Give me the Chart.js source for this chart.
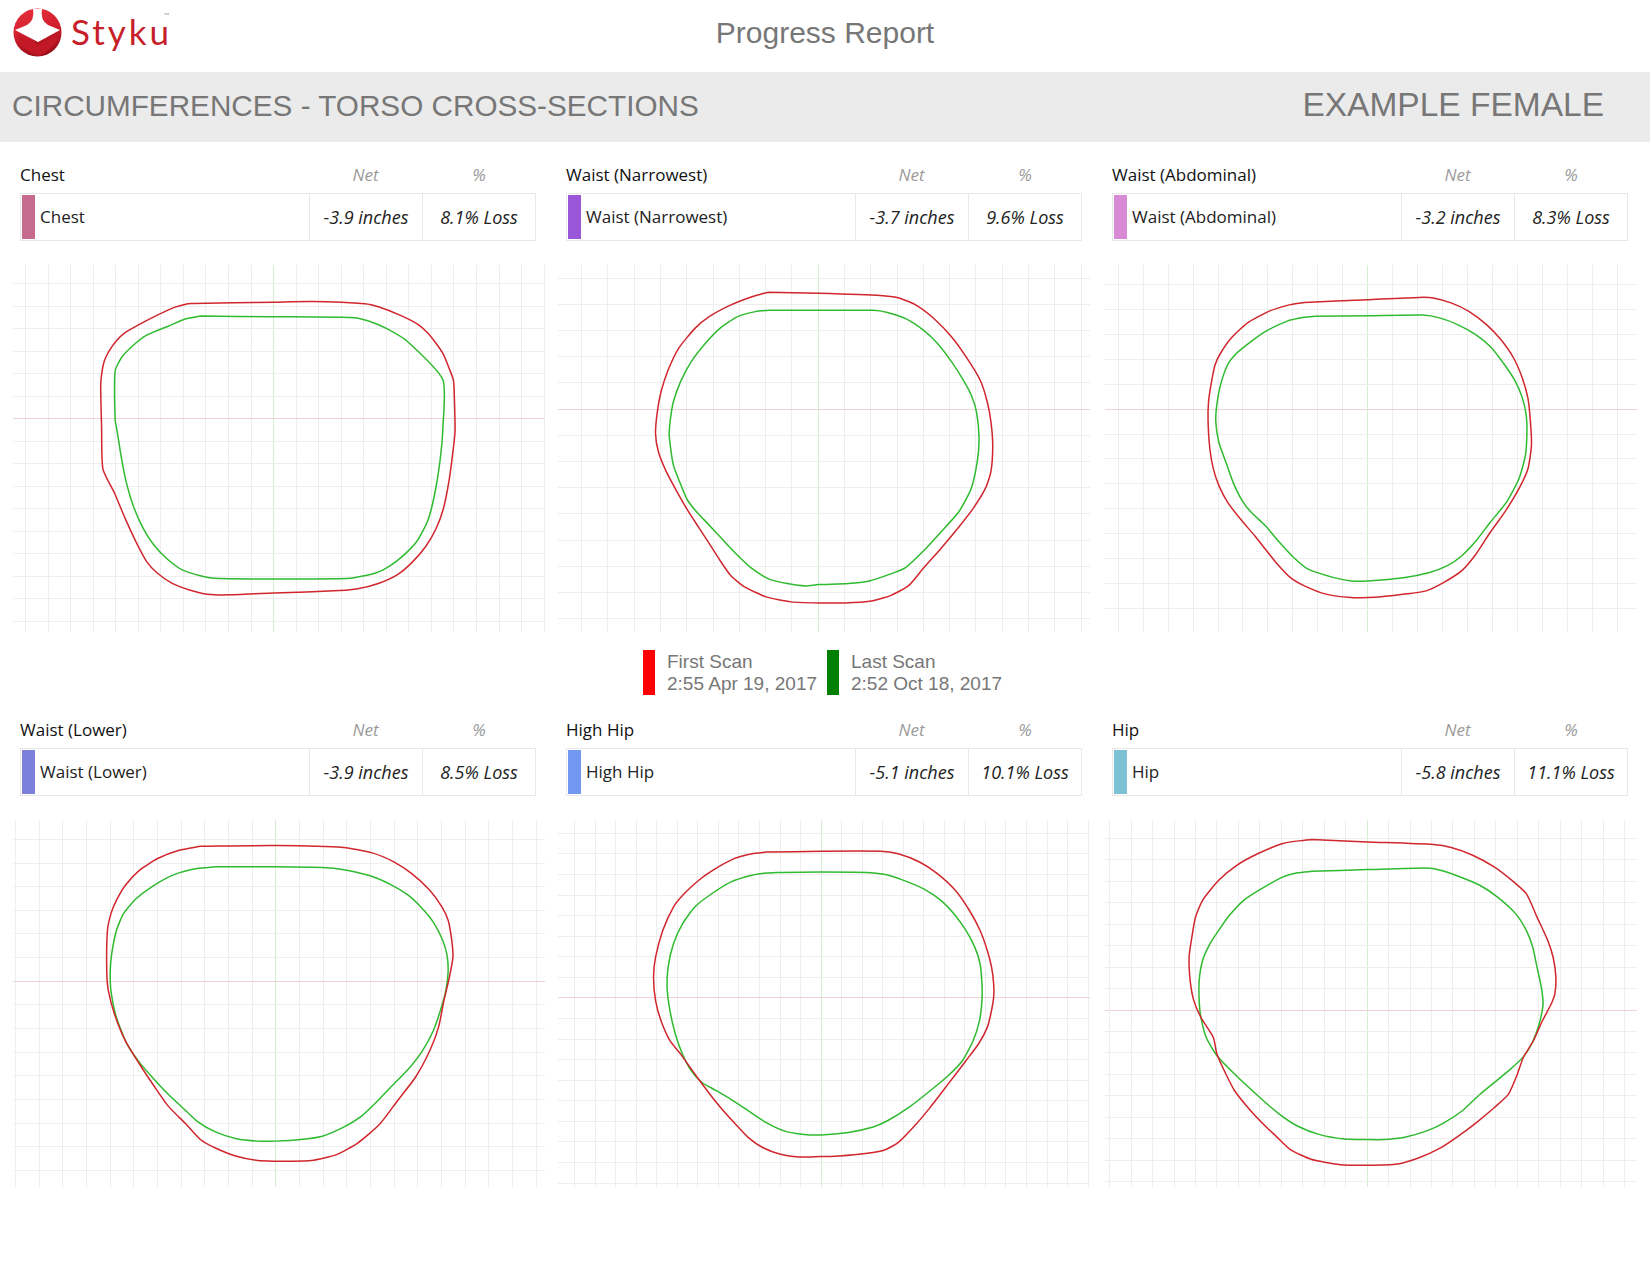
<!DOCTYPE html>
<html>
<head>
<meta charset="utf-8">
<script src="https://cdn.jsdelivr.net/npm/chart.js@4.4.1/dist/chart.umd.min.js"></script>
<style>
  html, body { margin: 0; padding: 0; background: #fff; }
  body { width: 1650px; height: 1275px; position: relative; overflow: hidden; font-family: "Liberation Sans", Arial, sans-serif; }
  .abs { position: absolute; }
  .hdr { position: absolute; font-family: "Open Sans", sans-serif; font-size: 17px; line-height: 20px; }
  .hname { color: #111; }
  .hcol { color: #9a9a9a; font-style: italic; text-align: center; }
  .row { position: absolute; height: 46px; border: 1px solid #e8e8e8; box-sizing: content-box; font-family: "Open Sans", sans-serif; font-size: 17px; color: #222; }
  .cell { position: absolute; top: 0; height: 46px; line-height: 46px; }
  .sw { position: absolute; left: 1px; top: 1px; width: 13px; height: 44px; }
  .sep { position: absolute; top: 0; width: 1px; height: 46px; background: #e8e8e8; }
  .it { font-style: italic; text-align: center; font-size: 18px; }
  .cwrap { position: absolute; }
  .leg { position: absolute; font-size: 19px; color: #777; line-height: 22px; }
  .legbar { position: absolute; width: 12px; height: 45px; }
</style>
</head>
<body>
<script>
// ---------- DATA ----------
const regions = ['Chest', 'Waist (Narrowest)', 'Waist (Abdominal)', 'Waist (Lower)', 'High Hip', 'Hip'];
const netInches = [-3.9, -3.7, -3.2, -3.9, -5.1, -5.8];
const pctLoss = [8.1, 9.6, 8.3, 8.5, 10.1, 11.1];
const scanNames = ['First Scan', 'Last Scan'];
const scanDates = ['2:55 Apr 19, 2017', '2:52 Oct 18, 2017'];

// axis ranges (inches) of each cross-section plot
const xMin = [-11.56, -9.9, -10.53, -11.1, -12.81, -12.22];
const xMax = [12.04, 10.34, 10.79, 11.38, 13.09, 12.58];
const yMin = [-9.47, -8.51, -8.94, -8.70, -9.19, -8.24];
const yMax = [6.84, 5.50, 5.78, 6.82, 8.65, 8.85];

// contour points [x, y] in inches
const chestFirst = [[-3.57,5.13],[0,5.19],[1.67,5.22],[4.05,5.12],[4.68,4.97],[5.63,4.60],[6.35,4.23],[6.83,3.83],[7.22,3.34],[7.54,2.86],[7.78,2.27],[7.98,1.71],[8.02,0.93],[8.05,-0.55],[7.94,-1.59],[7.78,-2.77],[7.54,-3.96],[7.22,-4.85],[6.75,-5.67],[6.11,-6.41],[5.48,-6.93],[4.68,-7.30],[3.73,-7.55],[2.94,-7.63],[0,-7.74],[-1.98,-7.82],[-2.94,-7.79],[-3.73,-7.60],[-4.52,-7.30],[-5.16,-6.85],[-5.63,-6.34],[-6.11,-5.45],[-6.59,-4.41],[-7.06,-3.29],[-7.57,-2.23],[-7.63,-0.40],[-7.67,1.48],[-7.62,2.05],[-7.51,2.57],[-7.30,3.01],[-6.98,3.46],[-6.59,3.83],[-5.95,4.20],[-5.16,4.61],[-4.37,4.97],[-3.89,5.10]];
const chestLast = [[-3.25,4.57],[0,4.54],[3.57,4.50],[4.21,4.35],[5.00,4.02],[5.95,3.43],[7.51,1.74],[7.51,-0.40],[7.38,-1.88],[7.14,-3.37],[6.83,-4.55],[6.35,-5.45],[5.79,-6.04],[5.16,-6.53],[4.52,-6.85],[3.41,-7.08],[0,-7.11],[-2.62,-7.08],[-3.25,-6.97],[-4.05,-6.71],[-4.68,-6.26],[-5.32,-5.59],[-5.79,-4.85],[-6.19,-3.96],[-6.51,-2.92],[-6.75,-1.74],[-6.94,-0.55],[-7.03,0],[-7.03,2.12],[-6.75,2.72],[-6.27,3.23],[-5.63,3.72],[-4.68,4.12],[-3.89,4.45]];

const narrowFirst = [[-1.91,4.46],[0,4.42],[2.36,4.34],[3.04,4.25],[3.72,3.97],[4.40,3.46],[5.07,2.76],[5.62,2.00],[6.16,1.11],[6.43,0.28],[6.57,-0.48],[6.64,-1.38],[6.57,-2.39],[6.36,-3.03],[5.89,-3.80],[5.35,-4.50],[4.67,-5.32],[3.99,-6.09],[3.45,-6.73],[2.77,-7.11],[1.95,-7.34],[1.00,-7.40],[0,-7.40],[-1.03,-7.36],[-1.98,-7.17],[-2.80,-6.79],[-3.34,-6.34],[-3.74,-5.77],[-4.15,-5.13],[-4.56,-4.50],[-4.97,-3.86],[-5.37,-3.16],[-5.78,-2.39],[-6.08,-1.63],[-6.19,-0.93],[-6.12,-0.10],[-5.98,0.66],[-5.71,1.49],[-5.31,2.32],[-4.69,3.08],[-4.15,3.53],[-3.34,3.97],[-2.52,4.29]];
const narrowLast = [[-1.85,3.77],[0,3.77],[2.09,3.77],[2.63,3.69],[3.31,3.46],[3.99,3.02],[4.53,2.51],[5.07,1.81],[5.48,1.17],[5.82,0.54],[6.02,-0.10],[6.12,-1.12],[6.05,-2.01],[5.82,-3.03],[5.35,-3.92],[4.67,-4.69],[3.99,-5.43],[3.31,-6.06],[2.63,-6.34],[1.95,-6.56],[1.14,-6.66],[0,-6.70],[-0.49,-6.75],[-1.17,-6.66],[-1.85,-6.50],[-2.59,-6.03],[-3.07,-5.58],[-3.61,-5.01],[-4.15,-4.43],[-4.63,-3.92],[-4.97,-3.48],[-5.17,-3.03],[-5.51,-2.14],[-5.67,-0.99],[-5.62,-0.36],[-5.51,0.28],[-5.24,1.04],[-4.83,1.81],[-4.29,2.51],[-3.74,3.08],[-3.07,3.53],[-2.39,3.72]];

const abdFirst = [[-2.54,4.28],[0,4.39],[2.05,4.48],[2.62,4.46],[3.34,4.26],[4.05,3.92],[4.77,3.38],[5.34,2.78],[5.85,2.04],[6.20,1.23],[6.42,0.43],[6.52,-0.51],[6.56,-1.45],[6.42,-2.39],[6.06,-3.19],[5.49,-4.13],[4.91,-4.94],[4.34,-5.81],[3.77,-6.48],[3.05,-6.95],[2.34,-7.29],[1.48,-7.42],[0.62,-7.52],[0,-7.56],[-0.67,-7.56],[-1.68,-7.42],[-2.54,-7.09],[-3.11,-6.75],[-3.68,-6.15],[-4.11,-5.61],[-4.54,-5.07],[-5.11,-4.40],[-5.62,-3.73],[-5.97,-3.06],[-6.19,-2.39],[-6.33,-1.58],[-6.40,-0.51],[-6.38,0.30],[-6.26,1.10],[-6.12,1.77],[-5.90,2.24],[-5.47,2.85],[-4.83,3.45],[-3.97,3.92],[-3.11,4.19]];
const abdLast = [[-2.11,3.72],[0,3.74],[2.19,3.77],[2.91,3.65],[3.62,3.38],[4.34,2.98],[4.91,2.51],[5.49,1.77],[5.92,1.10],[6.20,0.43],[6.35,-0.24],[6.38,-0.91],[6.32,-1.85],[6.06,-2.79],[5.56,-3.73],[4.91,-4.54],[4.34,-5.28],[3.77,-5.88],[3.19,-6.28],[2.48,-6.55],[1.48,-6.75],[0,-6.89],[-0.67,-6.89],[-1.39,-6.75],[-2.39,-6.42],[-2.97,-5.95],[-3.54,-5.34],[-4.11,-4.67],[-4.68,-4.13],[-5.04,-3.66],[-5.40,-2.93],[-5.69,-2.12],[-5.97,-1.32],[-6.09,-0.51],[-6.05,0.16],[-5.90,0.97],[-5.62,1.77],[-5.26,2.24],[-4.68,2.71],[-4.11,3.11],[-3.25,3.52],[-2.54,3.68]];

const lowerFirst = [[-3.18,5.71],[0,5.74],[2.87,5.66],[4.08,5.43],[4.99,5.05],[5.75,4.55],[6.51,3.85],[7.03,3.14],[7.29,2.57],[7.44,1.73],[7.49,1.02],[7.34,0.17],[7.11,-0.82],[6.88,-1.95],[6.51,-2.94],[5.90,-4.07],[5.14,-5.06],[4.39,-6.05],[3.48,-6.83],[2.57,-7.33],[1.51,-7.58],[0.45,-7.61],[0,-7.61],[-0.76,-7.58],[-1.66,-7.40],[-2.57,-7.04],[-3.18,-6.69],[-3.78,-6.05],[-4.54,-5.28],[-5.14,-4.43],[-5.75,-3.51],[-6.35,-2.52],[-6.81,-1.39],[-7.07,-0.40],[-7.14,0.45],[-7.11,2.15],[-6.96,2.86],[-6.73,3.42],[-6.35,4.06],[-5.75,4.70],[-4.99,5.19],[-4.08,5.54]];
const lowerLast = [[-2.57,4.84],[0,4.84],[1.97,4.81],[2.87,4.72],[3.93,4.48],[4.84,4.10],[5.60,3.64],[6.20,3.07],[6.66,2.50],[7.03,1.80],[7.23,1.16],[7.29,0.45],[7.19,-0.40],[6.96,-1.24],[6.66,-2.09],[6.20,-2.94],[5.60,-3.72],[4.84,-4.50],[4.24,-5.13],[3.63,-5.70],[2.87,-6.17],[1.97,-6.55],[1.06,-6.69],[0,-6.76],[-0.76,-6.76],[-1.66,-6.66],[-2.57,-6.36],[-3.33,-5.91],[-3.93,-5.35],[-4.54,-4.78],[-5.14,-4.14],[-5.75,-3.44],[-6.28,-2.66],[-6.73,-1.53],[-6.96,-0.40],[-6.99,0.45],[-6.93,1.16],[-6.73,2.15],[-6.43,2.86],[-5.90,3.49],[-5.14,4.06],[-4.24,4.53],[-3.33,4.77]];

const highHipFirst = [[-2.67,7.09],[0,7.13],[2.88,7.13],[3.75,7.01],[4.79,6.61],[5.66,6.04],[6.53,5.23],[7.22,4.25],[7.74,3.28],[8.09,2.31],[8.30,1.49],[8.40,0.68],[8.40,0.03],[8.26,-0.78],[8.09,-1.43],[7.66,-2.24],[7.05,-3.05],[6.18,-4.19],[5.31,-5.32],[4.62,-6.14],[3.75,-7.03],[3.06,-7.40],[1.84,-7.60],[0.45,-7.71],[0,-7.71],[-1.11,-7.73],[-1.98,-7.60],[-2.85,-7.27],[-3.54,-6.79],[-4.24,-6.06],[-5.10,-5.08],[-5.97,-3.94],[-6.84,-2.73],[-7.36,-2.08],[-7.80,-1.10],[-8.06,-0.13],[-8.16,1.01],[-8.06,1.98],[-7.71,3.28],[-7.19,4.42],[-6.67,5.06],[-5.97,5.71],[-5.28,6.20],[-4.24,6.77],[-3.37,7.01]];
const highHipLast = [[-1.98,6.10],[0,6.12],[2.19,6.10],[3.06,6.01],[3.92,5.75],[4.97,5.31],[5.83,4.74],[6.53,4.01],[7.05,3.28],[7.48,2.47],[7.74,1.66],[7.83,0.68],[7.83,-0.13],[7.71,-1.10],[7.40,-2.08],[6.88,-3.05],[6.18,-3.78],[5.31,-4.51],[4.27,-5.32],[3.23,-5.97],[2.53,-6.27],[1.32,-6.54],[0,-6.66],[-0.94,-6.62],[-1.81,-6.46],[-2.67,-6.06],[-3.54,-5.49],[-4.41,-4.92],[-5.10,-4.51],[-5.80,-4.11],[-6.32,-3.54],[-6.75,-2.73],[-7.10,-1.75],[-7.36,-0.62],[-7.50,0.52],[-7.45,1.49],[-7.19,2.63],[-6.75,3.60],[-6.15,4.42],[-5.45,4.98],[-4.41,5.63],[-3.37,5.96],[-2.67,6.07]];

const hipFirst = [[-2.58,7.94],[0,7.83],[3.08,7.71],[3.92,7.57],[4.92,7.21],[5.92,6.67],[6.75,6.04],[7.42,5.42],[7.92,4.33],[8.42,3.24],[8.67,2.46],[8.80,1.53],[8.75,0.75],[8.58,0.28],[8.17,-0.50],[7.75,-1.43],[7.28,-2.21],[7.00,-2.99],[6.58,-3.93],[5.92,-4.55],[5.08,-5.25],[4.25,-5.87],[3.42,-6.42],[2.42,-6.88],[1.42,-7.17],[0,-7.23],[-1.25,-7.20],[-2.58,-6.96],[-3.58,-6.50],[-4.25,-5.87],[-4.75,-5.40],[-5.42,-4.70],[-6.17,-3.77],[-6.58,-2.99],[-7.00,-2.06],[-7.17,-1.28],[-7.75,-0.34],[-8.08,0.44],[-8.25,1.37],[-8.30,2.46],[-8.17,3.40],[-8.00,4.33],[-7.67,5.11],[-6.92,6.04],[-6.08,6.74],[-5.08,7.29],[-3.92,7.76],[-2.92,7.91]];
const hipLast = [[-2.58,6.46],[0,6.54],[2.75,6.62],[3.42,6.51],[4.25,6.23],[5.25,5.81],[6.08,5.26],[6.92,4.49],[7.42,3.71],[7.72,2.93],[7.92,1.99],[8.12,1.06],[8.20,0.28],[8.02,-0.65],[7.70,-1.51],[7.28,-2.18],[6.67,-2.76],[5.92,-3.38],[5.25,-3.93],[4.42,-4.70],[3.58,-5.25],[2.75,-5.64],[1.75,-5.92],[0.75,-6.03],[0,-6.03],[-1.08,-6.00],[-2.25,-5.79],[-3.25,-5.40],[-4.08,-4.86],[-5.08,-4.00],[-6.17,-2.99],[-7.00,-2.13],[-7.50,-1.28],[-7.75,-0.34],[-7.83,0.44],[-7.83,1.37],[-7.67,2.31],[-7.33,3.08],[-6.92,3.71],[-6.42,4.41],[-5.75,5.11],[-4.92,5.65],[-3.92,6.20],[-3.25,6.39]];

const firstScans = [chestFirst, narrowFirst, abdFirst, lowerFirst, highHipFirst, hipFirst];
const lastScans = [chestLast, narrowLast, abdLast, lowerLast, highHipLast, hipLast];

// ---------- STYLE / LAYOUT ----------
const swatchColors = ['#c66a8e', '#9a58d8', '#d88ad4', '#7c80dc', '#7398f4', '#7cc2d4'];
const firstColor = '#d0262d';
const lastColor = '#2fba2f';
const gridColor = '#eeeeee';
const xAxisLineColor = '#d2efd2';
const yAxisLineColor = '#efd3d3';
const colLeftTable = [20, 566, 1112];
const colLeftChart = [13, 558, 1105];
const rowTop = [0, 555];

function el(tag, cls, style, text) {
  const e = document.createElement(tag);
  if (cls) e.className = cls;
  if (style) e.setAttribute('style', style);
  if (text !== undefined) e.textContent = text;
  document.body.appendChild(e);
  return e;
}

// header
el('div', 'abs', 'left:0;top:72px;width:1650px;height:70px;background:#ebebeb;');
el('div', 'abs', 'left:0;width:1650px;top:13px;text-align:center;font-size:30px;color:#777;line-height:40px;', 'Progress Report');
el('div', 'abs', 'left:12px;top:86px;font-size:29.7px;color:#777;line-height:40px;', 'CIRCUMFERENCES - TORSO CROSS-SECTIONS');
el('div', 'abs', 'right:46px;top:84px;font-size:33.5px;color:#777;line-height:42px;', 'EXAMPLE FEMALE');

// logo
const logo = document.createElement('div');
logo.className = 'abs';
logo.setAttribute('style', 'left:13px;top:8px;width:50px;height:50px;');
logo.innerHTML = '<svg width="50" height="50" viewBox="0 0 50 50"><defs>' +
  '<linearGradient id="lg" x1="0" y1="0" x2="0.3" y2="1"><stop offset="0" stop-color="#e8303e"/><stop offset="0.55" stop-color="#d21f2e"/><stop offset="1" stop-color="#9e0f1c"/></linearGradient></defs>' +
  '<circle cx="24.5" cy="24.5" r="24" fill="url(#lg)"/>' +
  '<path d="M20 1 L29 1 Q27 12 35 17 L47 22 L25 34 L2 22 L14 17 Q22 12 20 1 Z" fill="#fff"/>' +
  '<path d="M4 26 L25 37 L46 26 Q44 40 25 48 Q6 40 4 26 Z" fill="#c41a28" opacity="0.9"/>' +
  '</svg>';
document.body.appendChild(logo);
el('div', 'abs', 'left:71px;top:9px;font-family:Lato,sans-serif;font-size:35px;color:#c61f2a;letter-spacing:3px;line-height:44px;', 'Styku');
el('div', 'abs', 'left:164px;top:11px;font-family:Lato,sans-serif;font-size:7px;color:#999;', '\u2122');

// legend
el('div', 'legbar', 'left:643px;top:650px;background:#ff0000;');
el('div', 'leg', 'left:667px;top:651px;', scanNames[0]);
el('div', 'leg', 'left:667px;top:673px;', scanDates[0]);
el('div', 'legbar', 'left:827px;top:650px;background:#008000;');
el('div', 'leg', 'left:851px;top:651px;', scanNames[1]);
el('div', 'leg', 'left:851px;top:673px;', scanDates[1]);

// panels
regions.forEach((name, i) => {
  const col = i % 3, row = Math.floor(i / 3);
  const tl = colLeftTable[col], dy = rowTop[row];
  el('div', 'hdr hname', 'left:' + tl + 'px;top:' + (165 + dy) + 'px;', name);
  el('div', 'hdr hcol', 'left:' + (tl + 289) + 'px;width:113px;top:' + (165 + dy) + 'px;', 'Net');
  el('div', 'hdr hcol', 'left:' + (tl + 402) + 'px;width:114px;top:' + (165 + dy) + 'px;', '%');
  const r = el('div', 'row', 'left:' + tl + 'px;top:' + (193 + dy) + 'px;width:514px;');
  const sw = document.createElement('div'); sw.className = 'sw'; sw.style.background = swatchColors[i]; r.appendChild(sw);
  const c1 = document.createElement('div'); c1.className = 'cell'; c1.style.left = '19px'; c1.textContent = name; r.appendChild(c1);
  const s1 = document.createElement('div'); s1.className = 'sep'; s1.style.left = '288px'; r.appendChild(s1);
  const s2 = document.createElement('div'); s2.className = 'sep'; s2.style.left = '401px'; r.appendChild(s2);
  const c2 = document.createElement('div'); c2.className = 'cell it'; c2.style.left = '289px'; c2.style.width = '112px';
  c2.textContent = netInches[i].toFixed(1) + ' inches'; r.appendChild(c2);
  const c3 = document.createElement('div'); c3.className = 'cell it'; c3.style.left = '402px'; c3.style.width = '112px';
  c3.textContent = pctLoss[i].toFixed(1) + '% Loss'; r.appendChild(c3);

  const wrap = el('div', 'cwrap', 'left:' + colLeftChart[col] + 'px;top:' + (265 + dy) + 'px;width:532px;height:367px;');
  const cv = document.createElement('canvas');
  cv.width = 532; cv.height = 367;
  cv.style.width = '532px'; cv.style.height = '367px';
  wrap.appendChild(cv);

  const toPts = arr => arr.concat([arr[0]]).map(p => ({ x: p[0], y: p[1] }));
  const axis = (min, max, zeroColor) => ({
    type: 'linear', min: min, max: max,
    ticks: { display: false, stepSize: 1, includeBounds: false },
    grid: { drawTicks: false, lineWidth: 1, color: ctx => (ctx.tick && ctx.tick.value === 0) ? zeroColor : gridColor },
    border: { display: false }
  });

  new Chart(cv, {
    type: 'scatter',
    data: {
      datasets: [
        { label: scanNames[0], data: toPts(firstScans[i]), showLine: true, borderColor: firstColor, borderWidth: 1.5, pointRadius: 0, tension: 0.2, fill: false },
        { label: scanNames[1], data: toPts(lastScans[i]), showLine: true, borderColor: lastColor, borderWidth: 1.5, pointRadius: 0, tension: 0.2, fill: false }
      ]
    },
    options: {
      responsive: false, animation: false, maintainAspectRatio: false,
      layout: { padding: 0 },
      plugins: { legend: { display: false }, tooltip: { enabled: false } },
      scales: { x: axis(xMin[i], xMax[i], xAxisLineColor), y: axis(yMin[i], yMax[i], yAxisLineColor) }
    }
  });
});
</script>
</body>
</html>
